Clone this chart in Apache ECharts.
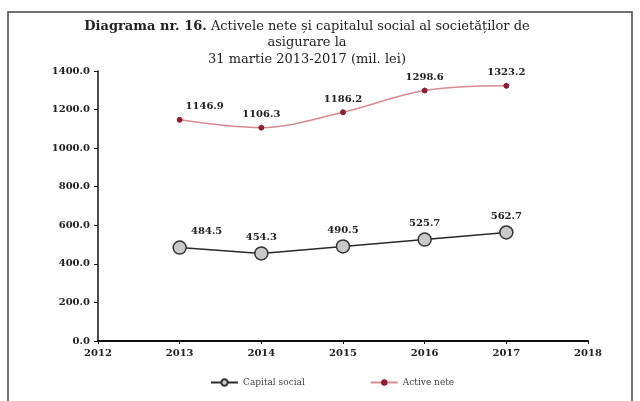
<!DOCTYPE html>
<html>
<head>
<meta charset="utf-8">
<script src="https://cdn.jsdelivr.net/npm/echarts@6/dist/echarts.min.js"></script>
<style>
html,body{margin:0;padding:0;background:#fff;}
#chart{width:640px;height:401px;}
</style>
</head>
<body>
<div id="chart"></div>
<script>
const years = [2013, 2014, 2015, 2016, 2017];
const capitalSocial = [484.5, 454.3, 490.5, 525.7, 562.7];
const activeNete = [1146.9, 1106.3, 1186.2, 1298.6, 1323.2];
const yTicks = [0, 200, 400, 600, 800, 1000, 1200, 1400];
const seriesNames = ['Capital social', 'Active nete'];

const serif = '"DejaVu Serif", "Liberation Serif", serif';

function pairs(vals, firstOffset) {
  return vals.map((v, i) => {
    const p = { value: [years[i], v] };
    if (i === 0) p.label = { offset: firstOffset };
    return p;
  });
}

const chart = echarts.init(document.getElementById('chart'), null, { renderer: 'canvas' });
chart.setOption({
  animation: false,
  backgroundColor: '#fff',
  graphic: [{
    type: 'rect',
    shape: { x: 8, y: 12, width: 624, height: 400 },
    style: { fill: 'none', stroke: '#444', lineWidth: 1.5 },
    silent: true
  }],
  title: {
    text: '{b|Diagrama nr. 16.} Activele nete și capitalul social al societăților de\nasigurare la\n31 martie 2013-2017 (mil. lei)',
    left: 302,
    textAlign: 'center',
    top: 13,
    textStyle: {
      fontFamily: serif, fontSize: 13, fontWeight: 'normal', color: '#222', lineHeight: 16.5,
      rich: { b: { fontFamily: serif, fontSize: 13, fontWeight: 'bold', color: '#222', lineHeight: 16.5 } }
    }
  },
  legend: {
    top: 373,
    left: 205,
    itemGap: 65,
    itemWidth: 27,
    itemHeight: 8,
    textStyle: { fontFamily: serif, fontSize: 9, color: '#444' },
    data: seriesNames
  },
  grid: { left: 98, right: 52, top: 71, bottom: 60 },
  xAxis: {
    type: 'value',
    min: 2012, max: 2018, interval: 1,
    splitLine: { show: false },
    axisLine: { lineStyle: { color: '#111', width: 2 } },
    axisTick: { show: true, length: 3, lineStyle: { color: '#111' } },
    axisLabel: { fontFamily: serif, fontSize: 10, fontWeight: 'bold', color: '#222', margin: 7,
      formatter: v => String(v) }
  },
  yAxis: {
    type: 'value',
    min: yTicks[0], max: yTicks[yTicks.length - 1], interval: yTicks[1] - yTicks[0],
    splitLine: { show: false },
    axisLine: { show: true, lineStyle: { color: '#111', width: 1.5 } },
    axisTick: { show: true, length: 4, lineStyle: { color: '#111' } },
    axisLabel: { fontFamily: serif, fontSize: 10, fontWeight: 'bold', color: '#222', margin: 8,
      formatter: v => v.toFixed(1) }
  },
  series: [
    {
      name: seriesNames[0],
      type: 'line',
      data: pairs(capitalSocial, [27, 0]),
      symbol: 'circle',
      symbolSize: 13,
      lineStyle: { color: '#2a2a2a', width: 1.5 },
      itemStyle: { color: '#c9c9c9', borderColor: '#333', borderWidth: 1.5 },
      label: { show: true, position: 'top', distance: 4, fontFamily: serif, fontSize: 10, fontWeight: 'bold', color: '#222',
        formatter: p => p.value[1].toFixed(1) }
    },
    {
      name: seriesNames[1],
      type: 'line',
      data: pairs(activeNete, [25, 0]),
      smooth: 0.35,
      symbol: 'circle',
      symbolSize: 5,
      lineStyle: { color: '#d98a92', width: 1.5 },
      itemStyle: { color: '#8b2035', borderColor: '#8b2035' },
      label: { show: true, position: 'top', distance: 5, fontFamily: serif, fontSize: 10, fontWeight: 'bold', color: '#222',
        formatter: p => p.value[1].toFixed(1) }
    }
  ]
});
</script>
</body>
</html>
